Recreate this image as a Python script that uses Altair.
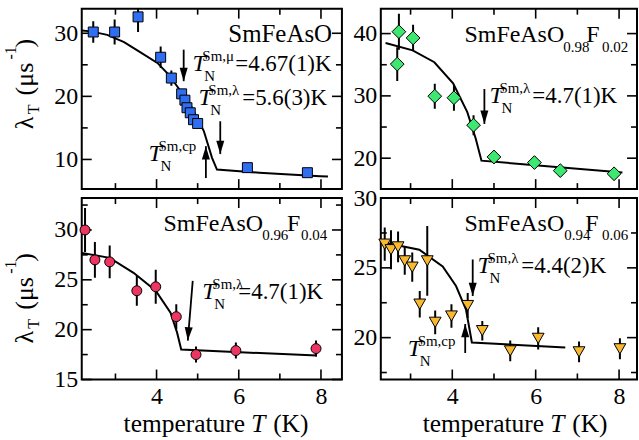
import altair as alt
import pandas as pd

FONT = "Liberation Serif"

# ---------------- SmFeAsO ----------------
t_a = [2.46, 2.98, 3.55, 4.10, 4.36, 4.61, 4.69, 4.74, 4.82, 4.90, 5.00, 6.21, 7.67]
lam_a = [30.2, 30.2, 32.6, 26.2, 22.9, 20.4, 19.4, 18.2, 17.4, 16.3, 15.7, 8.7, 7.9]
err_a = [1.7, 2.0, 2.4, 1.7, 1.2, 0.5, 0.5, 0.5, 0.5, 0.5, 0.5, 0.5, 0.4]
fit_t_a = [2.18, 2.40, 2.80, 3.21, 3.60, 4.02, 4.30, 4.50, 4.82, 5.15, 5.35, 5.47, 6.50, 7.98, 8.17]
fit_a = [30.45, 30.3, 29.75, 28.6, 27.0, 25.3, 23.4, 21.6, 18.7, 14.5, 10.25, 8.4, 7.9, 7.35, 7.3]

# ---------------- SmFeAsO0.98F0.02 ----------------
t_b = [2.72, 2.68, 3.06, 3.58, 4.04, 4.51, 5.00, 5.97, 6.59, 7.88]
lam_b = [40.3, 35.1, 39.3, 29.95, 29.7, 25.3, 20.2, 19.3, 18.0, 17.5]
err_b = [2.9, 2.7, 2.1, 2.0, 2.1, 1.6, 1.1, 1.0, 1.0, 0.9]
fit_t_b = [2.40, 3.05, 3.57, 4.02, 4.36, 4.56, 4.70, 8.08]
fit_b = [38.5, 37.3, 35.4, 32.0, 27.4, 23.2, 19.6, 17.7]

# ---------------- SmFeAsO0.96F0.04 ----------------
t_c = [2.26, 2.50, 2.86, 3.52, 3.98, 4.48, 4.96, 5.93, 7.88]
lam_c = [30.0, 27.0, 26.8, 23.9, 24.3, 21.3, 17.5, 17.9, 18.1]
err_c = [2.2, 1.8, 1.65, 1.5, 1.7, 1.25, 0.8, 0.8, 0.8]
fit_t_c = [2.18, 2.86, 3.44, 3.98, 4.34, 4.50, 4.60, 7.90]
fit_c = [27.7, 27.2, 25.7, 23.9, 21.7, 19.7, 18.0, 17.4]

# ---------------- SmFeAsO0.94F0.06 ----------------
t_d = [2.38, 2.53, 2.70, 2.86, 3.04, 3.22, 3.40, 3.59, 3.98, 4.37, 4.72, 5.39, 6.06, 7.04, 8.02]
lam_d = [26.7, 26.3, 26.5, 25.5, 25.05, 22.4, 25.5, 21.1, 21.55, 22.3, 20.5, 19.05, 19.95, 18.98, 19.2]
err_d = [1.2, 1.4, 1.1, 1.0, 1.05, 0.95, 2.5, 0.85, 0.85, 0.9, 0.7, 0.75, 0.8, 0.75, 0.75]
fit_t_d = [2.30, 3.21, 3.77, 4.09, 4.33, 4.47, 6.71]
fit_d = [26.85, 26.3, 25.1, 23.7, 22.0, 19.65, 19.3]

# arrows: tail temperature, tip temperature, tail value, tip value, head rotation
arrows_a = dict(tt=[4.66, 5.55, 5.20], tp=[4.66, 5.55, 5.20],
                vt=[27.4, 16.05, 7.05], vp=[22.4, 10.85, 12.1], ang=[0, 0, 180])
arrows_b = dict(tt=[4.77], tp=[4.77], vt=[31.1], vp=[25.5], ang=[0])
arrows_c = dict(tt=[4.88], tp=[4.76], vt=[24.9], vp=[18.9], ang=[4])
arrows_d = dict(tt=[4.49, 4.31], tp=[4.49, 4.31], vt=[25.6, 18.9], vp=[22.98, 20.98], ang=[0, 180])

x_major = [4, 6, 8]
x_minor = [3, 5, 7]

HEAD = "M-0.6,-2L0.6,-2L0,0Z"


def txt(s, x, y, size, italic=False, angle=0):
    return alt.Chart(pd.DataFrame({"s": [s]})).mark_text(
        align="left", baseline="alphabetic", font=FONT, fontSize=size,
        fontStyle="italic" if italic else "normal", angle=angle, color="black"
    ).encode(x=alt.value(x), y=alt.value(y), text="s:N")


def sm_label(x, y, text, size=15, italic_size=24):
    # T^{text}_N built from three pieces
    return [txt("T", x, y, italic_size, italic=True),
            txt(text, x + 10, y - 10, size),
            txt("N", x + 12, y + 10, size)]


def panel(t, lam, err, fit_t, fit_v, arrows, xdom, ydom, w, h, shape, color, msize,
          ymajor, yminor, bottom, texts):
    xs = alt.Scale(domain=xdom, nice=False, zero=False)
    ys = alt.Scale(domain=ydom, nice=False, zero=False)
    if bottom:
        xaxis = alt.Axis(values=x_major, title=None, ticks=False, tickSize=0, domain=False,
                         grid=False, labelFont=FONT, labelFontSize=24, labelColor="black",
                         labelPadding=5, labelFlush=False, labelOverlap=False, format="d")
    else:
        xaxis = None
    yaxis = alt.Axis(values=ymajor, title=None, ticks=False, tickSize=0, domain=False,
                     grid=False, labelFont=FONT, labelFontSize=24, labelColor="black",
                     labelPadding=4, labelFlush=False, labelOverlap=False, format="d")

    def X(f):
        return alt.X(f, type="quantitative", scale=xs, axis=xaxis)

    def Y(f):
        return alt.Y(f, type="quantitative", scale=ys, axis=yaxis)

    pts = pd.DataFrame({"T": t, "v": lam,
                        "lo": [a - b for a, b in zip(lam, err)],
                        "hi": [a + b for a, b in zip(lam, err)]})
    fit = pd.DataFrame({"T": fit_t, "v": fit_v})
    arr = pd.DataFrame(arrows)

    layers = []
    # inward tick marks on all four sides
    for vals, ln in ((x_major, 10), (x_minor, 6)):
        d = alt.Chart(pd.DataFrame({"T": vals})).mark_rule(color="black", strokeWidth=1.6)
        layers.append(d.encode(x=X("T"), y=alt.value(h), y2=alt.value(h - ln)))
        layers.append(d.encode(x=X("T"), y=alt.value(0), y2=alt.value(ln)))
    for vals, ln in ((ymajor, 10), (yminor, 6)):
        d = alt.Chart(pd.DataFrame({"v": vals})).mark_rule(color="black", strokeWidth=1.6)
        layers.append(d.encode(y=Y("v"), x=alt.value(0), x2=alt.value(ln)))
        layers.append(d.encode(y=Y("v"), x=alt.value(w), x2=alt.value(w - ln)))

    layers.append(alt.Chart(fit).mark_line(color="black", strokeWidth=2).encode(
        x=X("T"), y=Y("v")))
    layers.append(alt.Chart(pts).mark_rule(color="black", strokeWidth=2, clip=True).encode(
        x=X("T"), y=Y("lo"), y2=alt.Y2("hi")))
    layers.append(alt.Chart(pts).mark_point(
        shape=shape, size=msize, fill=color, fillOpacity=1, opacity=1,
        stroke="black", strokeWidth=1, strokeOpacity=1).encode(x=X("T"), y=Y("v")))
    layers.append(alt.Chart(arr).mark_rule(color="black", strokeWidth=1.8).encode(
        x=X("tt"), x2=alt.X2("tp"), y=Y("vt"), y2=alt.Y2("vp")))
    layers.append(alt.Chart(arr).mark_point(
        shape=HEAD, size=180, fill="black", fillOpacity=1, opacity=1, strokeWidth=0).encode(
        x=X("tp"), y=Y("vp"), angle=alt.Angle("ang:Q", scale=None)))
    layers += texts
    return alt.layer(*layers).properties(width=w, height=h)


def ylabel(y0):
    # λ_T (μs^-1), rotated
    return [txt("λ", -49, y0, 26, angle=270),
            txt("T", -43, y0 - 15, 16, angle=270),
            txt("(μs", -49, y0 - 34, 26, angle=270),
            txt("-1", -66, y0 - 70, 16, angle=270),
            txt(")", -49, y0 - 82, 26, angle=270)]


def xlabel():
    return [txt("temperature", 42, 235, 25.5),
            txt("T", 170, 235, 25.5, italic=True),
            txt("(K)", 192, 235, 25.5)]


anchor = alt.Chart(pd.DataFrame({"a": [0]})).mark_rule(opacity=0, strokeOpacity=0).encode(
    x=alt.value(-81), x2=alt.value(-81), y=alt.value(-7), y2=alt.value(-7))

texts_a = ([anchor, txt("SmFeAsO", 147, 33, 25)]
           + sm_label(111, 63, "Sm,μ") + [txt("=4.67(1)K", 154, 63, 23)]
           + sm_label(117, 97, "Sm,λ") + [txt("=5.6(3)K", 161, 97, 23)]
           + sm_label(67, 153, "Sm,cp")
           + ylabel(121))
texts_b = ([txt("SmFeAsO", 84, 33, 24), txt("0.98", 183, 43, 15),
            txt("F", 206, 33, 24), txt("0.02", 222, 43, 15)]
           + sm_label(109, 95, "Sm,λ") + [txt("=4.7(1)K", 152, 95, 23)])
texts_c = ([txt("SmFeAsO", 82, 33, 24), txt("0.96", 181, 42, 15),
            txt("F", 206, 33, 24), txt("0.04", 220, 42, 15)]
           + sm_label(121, 101, "Sm,λ") + [txt("=4.7(1)K", 157, 101, 23)]
           + ylabel(146) + xlabel())
texts_d = ([txt("SmFeAsO", 84, 33, 24), txt("0.94", 184, 42, 15),
            txt("F", 205, 33, 24), txt("0.06", 222, 42, 15)]
           + sm_label(97, 75, "Sm,λ") + [txt("=4.4(2)K", 141, 75, 23)]
           + sm_label(27, 158, "Sm,cp")
           + xlabel())

LEFT_X = [2.18, 8.51]
RIGHT_X = [2.286, 8.43]

p_a = panel(t_a, lam_a, err_a, fit_t_a, fit_a, arrows_a, LEFT_X, [5.3, 33.9], 261, 181,
            "square", "#2f6ef0", 100, [10, 20, 30], [15, 25], False, texts_a)
p_b = panel(t_b, lam_b, err_b, fit_t_b, fit_b, arrows_b, RIGHT_X, [15.04, 44.0], 257, 181,
            "diamond", "#3de870", 190, [20, 30, 40], [25, 35], False, texts_b)
p_c = panel(t_c, lam_c, err_c, fit_t_c, fit_c, arrows_c, LEFT_X, [15, 33.2], 261, 182,
            "circle", "#ec3560", 100, [15, 20, 25, 30], [17.5, 22.5, 27.5, 32.5], True, texts_c)
p_d = panel(t_d, lam_d, err_d, fit_t_d, fit_d, arrows_d, RIGHT_X, [17.0, 30.0], 257, 182,
            "triangle-down", "#f8b830", 140, [20, 25, 30], [17.5, 22.5, 27.5], True, texts_d)

chart = alt.concat(p_a, p_b, p_c, p_d, columns=2, bounds="flush",
                   spacing=alt.RowColnumber(row=9, column=39)).properties(
    padding=0, background="white"
).configure_view(stroke="black", strokeWidth=2).configure_axis(
    labelFont=FONT, labelColor="black")

chart.save("out.html", embed_options={"renderer": "svg", "actions": False})
